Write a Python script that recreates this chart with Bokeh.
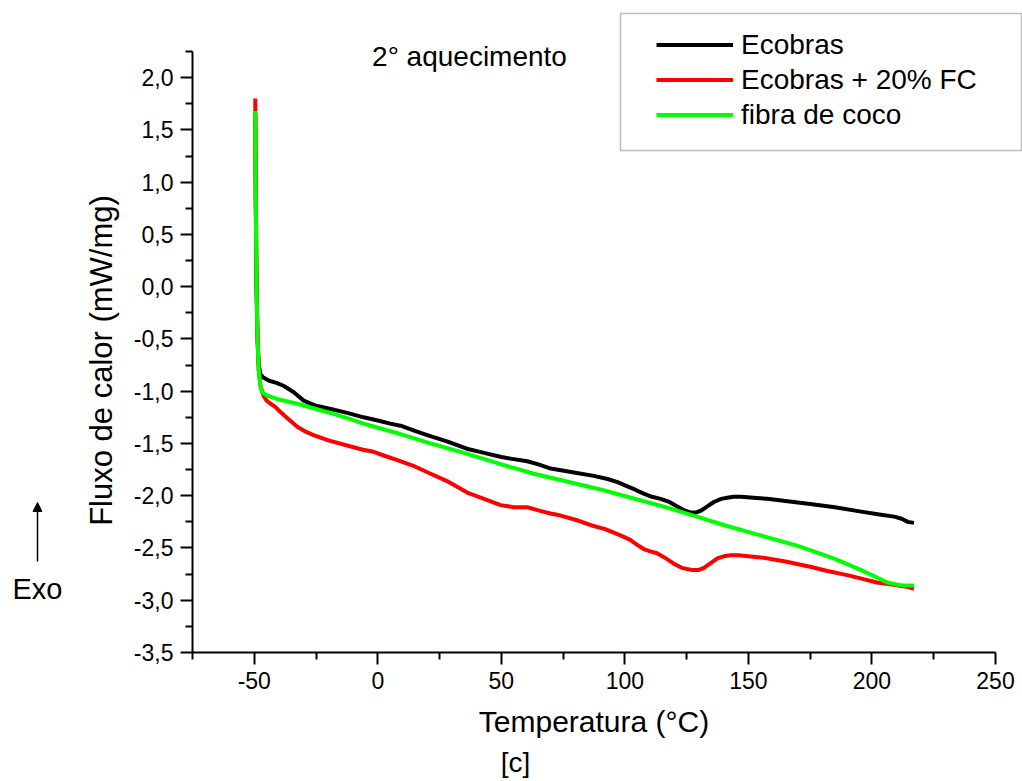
from bokeh.plotting import figure
from bokeh.models import (Range1d, FixedTicker, CustomJSTickFormatter, Legend, LegendItem,
                          Label, Arrow, NormalHead, BoxAnnotation, LinearAxis)
from bokeh.embed import file_html
from bokeh.resources import INLINE
import math

FONT = "Liberation Sans"

# ---- data ----
eco_x = [-49.6, -49.4, -49.1, -48.7, -48.2, -47.5, -46.3, -44, -41, -38, -34, -30, -25, -19, -12,
         -5.8, 0, 5, 9.2, 15, 20, 28, 36, 43, 50, 55, 60.5, 65, 70, 80, 87.4, 93, 97, 101, 104,
         107.6, 111, 114.4, 118, 121, 124, 126.5, 129, 131, 133.5, 136, 139, 141.4, 144, 147, 152,
         157.6, 165, 175, 185, 195, 203, 209, 212, 214.5, 217]
eco_y = [1.65, 0.8, 0.0, -0.5, -0.75, -0.84, -0.87, -0.9, -0.92, -0.95, -1.01, -1.09, -1.14, -1.17,
         -1.21, -1.25, -1.28, -1.31, -1.33, -1.38, -1.42, -1.48, -1.55, -1.59, -1.63, -1.65, -1.67,
         -1.7, -1.74, -1.78, -1.81, -1.84, -1.87, -1.91, -1.94, -1.98, -2.01, -2.03, -2.06, -2.1,
         -2.14, -2.16, -2.16, -2.14, -2.1, -2.06, -2.03, -2.02, -2.01, -2.01, -2.02, -2.03, -2.05,
         -2.08, -2.11, -2.15, -2.18, -2.2, -2.22, -2.25, -2.26]

fc_x = [-49.6, -49.4, -49.1, -48.7, -48.2, -47.5, -46.3, -45, -43.4, -41.5, -39.4, -36, -32.6, -29,
        -26, -20, -12.4, -6, -1.7, 3, 7.9, 15, 21.4, 28, 36.2, 43, 49.7, 55, 60.5, 65, 69.9, 74,
        80, 87.4, 92, 98.2, 102, 105, 107.6, 110, 113, 116, 119.8, 123, 127.2, 130, 132, 135,
        137.4, 140, 142.7, 146, 150, 155, 165, 175, 182, 190, 197, 202, 208, 214, 217]
fc_y = [1.8, 0.9, 0.1, -0.45, -0.8, -0.95, -1.04, -1.09, -1.12, -1.15, -1.2, -1.27, -1.34, -1.39,
        -1.42, -1.47, -1.52, -1.56, -1.58, -1.62, -1.66, -1.72, -1.79, -1.86, -1.97, -2.03, -2.09,
        -2.11, -2.11, -2.14, -2.17, -2.19, -2.23, -2.29, -2.32, -2.38, -2.42, -2.47, -2.51, -2.53,
        -2.55, -2.59, -2.65, -2.69, -2.71, -2.71, -2.69, -2.64, -2.6, -2.58, -2.57, -2.57, -2.58,
        -2.59, -2.63, -2.68, -2.72, -2.76, -2.8, -2.83, -2.85, -2.87, -2.89]

coco_x = [-49.6, -49.4, -49.1, -48.7, -48.2, -47.5, -46.8, -45, -40, -32.6, -25, -19, -12, -5.8, 0,
          9.2, 20, 36.2, 50, 63.2, 73.9, 90.1, 100.9, 115, 127.9, 140, 154.9, 170, 184.5, 195.4,
          201, 206.2, 210, 213, 217]
coco_y = [1.68, 0.85, 0.05, -0.5, -0.8, -0.95, -1.01, -1.04, -1.08, -1.12, -1.17, -1.21, -1.26,
          -1.31, -1.35, -1.41, -1.49, -1.6, -1.7, -1.79, -1.85, -1.94, -2.01, -2.1, -2.19, -2.28,
          -2.38, -2.48, -2.6, -2.71, -2.77, -2.83, -2.85, -2.86, -2.86]

series_labels = ["Ecobras", "Ecobras + 20% FC", "fibra de coco"]
series_colors = ["#000000", "#FF0000", "#00FF00"]

x_major = [-50, 0, 50, 100, 150, 200, 250]
x_minor = [-75, -25, 25, 75, 125, 175, 225]
y_major = [-3.5, -3.0, -2.5, -2.0, -1.5, -1.0, -0.5, 0.0, 0.5, 1.0, 1.5, 2.0]
y_minor = [-3.25, -2.75, -2.25, -1.75, -1.25, -0.75, -0.25, 0.25, 0.75, 1.25, 1.75, 2.25]
x_bounds = (-75, 250)
y_bounds = (-3.5, 2.25)

# ---- layout (pixel positions of the axes box inside the 1022x781 canvas) ----
W, H = 1022, 781
FL, FB, FT, FR = 192, 652, 51, 995
sx = (FR - FL) / (x_bounds[1] - x_bounds[0])
sy = (FB - FT) / (y_bounds[1] - y_bounds[0])
xr = Range1d(x_bounds[0] - FL / sx, x_bounds[1] + (W - FR) / sx)
yr = Range1d(y_bounds[0] - (H - FB) / sy, y_bounds[1] + FT / sy)

p = figure(width=W, height=H, output_backend="svg", toolbar_location=None, title=None,
           x_range=xr, y_range=yr, min_border=0,
           x_axis_location=None, y_axis_location=None)
p.outline_line_color = None
p.background_fill_color = "white"
p.border_fill_color = "white"
p.grid.visible = False

renderers = []
for xs, ys, c in [(eco_x, eco_y, series_colors[0]), (fc_x, fc_y, series_colors[1]),
                  (coco_x, coco_y, series_colors[2])]:
    r = p.line(xs, ys, line_color=c, line_width=4, line_join="round")
    renderers.append(r)

xax = LinearAxis(fixed_location=y_bounds[0], bounds=x_bounds,
                 ticker=FixedTicker(ticks=x_major, minor_ticks=x_minor),
                 formatter=CustomJSTickFormatter(code="return tick.toFixed(0);"),
                 axis_label="Temperatura (°C)")
yax = LinearAxis(fixed_location=x_bounds[0], bounds=y_bounds,
                 ticker=FixedTicker(ticks=y_major, minor_ticks=y_minor),
                 formatter=CustomJSTickFormatter(code="return tick.toFixed(1).replace('.', ',');"))
for ax in (xax, yax):
    ax.axis_line_width = 2
    ax.axis_line_color = "black"
    ax.major_tick_line_width = 2
    ax.minor_tick_line_width = 2
    ax.major_tick_line_color = "black"
    ax.minor_tick_line_color = "black"
    ax.major_tick_out = 12
    ax.major_tick_in = 0
    ax.minor_tick_out = 7
    ax.minor_tick_in = 0
    ax.major_label_text_font = FONT
    ax.major_label_text_font_size = "23px"
    ax.major_label_text_color = "black"
    ax.major_label_standoff = 7
    ax.axis_label_text_font = FONT
    ax.axis_label_text_font_style = "normal"
    ax.axis_label_text_color = "black"
xax.axis_label_text_font_size = "30px"
xax.axis_label_standoff = 13
p.add_layout(xax, "below")
p.add_layout(yax, "left")

# legend
items = [LegendItem(label=lab, renderers=[r]) for lab, r in zip(series_labels, renderers)]
legend = Legend(items=items, location=(656, 649),
                glyph_width=77, glyph_height=35, label_height=35, label_standoff=8,
                spacing=0, padding=12, margin=0,
                label_text_font=FONT, label_text_font_size="28px", label_text_color="black",
                border_line_color=None, background_fill_alpha=0)
p.add_layout(legend, "center")
p.add_layout(BoxAnnotation(left=620, right=1021, top=H - 13, bottom=H - 150,
                           left_units="screen", right_units="screen",
                           top_units="screen", bottom_units="screen",
                           fill_alpha=0, line_color="#222222", line_width=1.5))

# text annotations
def screen_label(text, px, py, size, angle=0.0):
    return Label(x=px, y=H - py, x_units="screen", y_units="screen", text=text, angle=angle,
                 text_font=FONT, text_font_size=size, text_align="center",
                 text_baseline="middle", text_color="black")

p.add_layout(screen_label("Fluxo de calor (mW/mg)", 101, 360, "31px", math.pi / 2))
p.add_layout(screen_label("2° aquecimento", 469, 56, "28px"))
p.add_layout(screen_label("Exo", 37, 588, "29px"))
p.add_layout(screen_label("[c]", 515, 762, "28px"))
p.add_layout(Arrow(end=NormalHead(size=9, fill_color="black", line_color="black"),
                   x_start=37, y_start=H - 561, x_end=37, y_end=H - 502,
                   start_units="screen", end_units="screen",
                   line_color="black", line_width=1.5))

open("out.html", "w").write(file_html(p, INLINE))
